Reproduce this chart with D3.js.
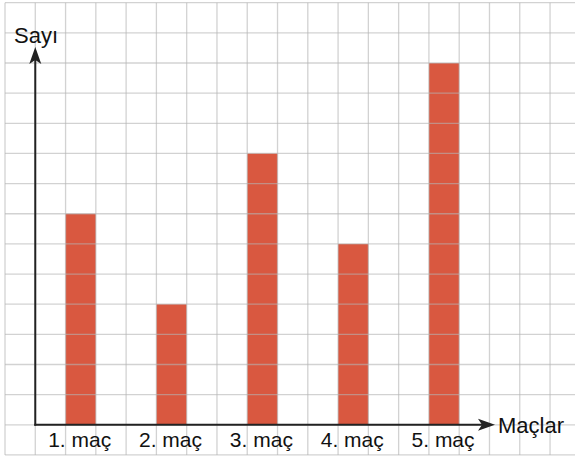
<!DOCTYPE html>
<html>
<head>
<meta charset="utf-8">
<script src="https://cdn.jsdelivr.net/npm/d3@7"></script>
<style>
html,body{margin:0;padding:0;background:#fff;}
svg{display:block;}
</style>
</head>
<body>
<svg id="chart" width="575" height="458"></svg>
<script>
const categories = ["1. maç", "2. maç", "3. maç", "4. maç", "5. maç"];
const values = [7, 4, 9, 6, 12];
const yTitle = "Sayı";
const xTitle = "Maçlar";

const svg = d3.select("#chart");
const cellW = 30.28, cellH = 30.15;
const gx0 = 5, gy0 = 2.7;
const nCols = 19, nRows = 15;

// grid-unit scales
const gxs = d3.scaleLinear().domain([0, nCols]).range([gx0, gx0 + nCols * cellW]);
const y = d3.scaleLinear().domain([0, 14]).range([gy0 + 14 * cellH, gy0]);
const x = d3.scaleBand().domain(categories)
  .range([gxs(1), gxs(16)]).paddingInner(2/3).paddingOuter(1/3);

// bars
svg.append("g").selectAll("rect").data(values).join("rect")
  .attr("x", (d, i) => x(categories[i]))
  .attr("width", x.bandwidth())
  .attr("y", d => y(d))
  .attr("height", d => y(0) - y(d))
  .attr("fill", "#d95840");

// grid
const grid = svg.append("g").attr("stroke", "#b4b4b4").attr("stroke-opacity", 0.6).attr("stroke-width", 1.3);
grid.selectAll("line.v").data(d3.range(0, nCols + 1)).join("line")
  .attr("x1", d => gxs(d)).attr("x2", d => gxs(d))
  .attr("y1", y(14)).attr("y2", y(-1));
grid.selectAll("line.h").data(d3.range(-1, 15)).join("line")
  .attr("y1", d => y(d)).attr("y2", d => y(d))
  .attr("x1", gxs(0)).attr("x2", 575);

// axes
const ax = svg.append("g").attr("stroke", "#222").attr("stroke-width", 2);
const ox = gxs(1), oy = y(0);
ax.append("line").attr("x1", ox).attr("x2", ox).attr("y1", oy + 1).attr("y2", 58);
ax.append("line").attr("x1", ox - 1).attr("x2", 485).attr("y1", oy).attr("y2", oy);
svg.append("path")
  .attr("d", `M${ox},47 L${ox + 6},64 L${ox},60 L${ox - 6},64 Z`)
  .attr("fill", "#222");
svg.append("path")
  .attr("d", `M495,${oy} L478,${oy - 6} L482,${oy} L478,${oy + 6} Z`)
  .attr("fill", "#222");

// tick labels
svg.append("g").selectAll("text").data(categories).join("text")
  .attr("x", d => x(d) + x.bandwidth() / 2 - 1)
  .attr("y", 447)
  .attr("text-anchor", "middle")
  .attr("font-family", "Liberation Sans, Arial, sans-serif")
  .attr("font-size", 21)
  .attr("fill", "#111")
  .text(d => d);

// titles
svg.append("text").attr("x", 14).attr("y", 43)
  .attr("font-family", "Liberation Sans, Arial, sans-serif")
  .attr("font-size", 22).attr("fill", "#111").text(yTitle);
svg.append("text").attr("x", 498).attr("y", 433)
  .attr("font-family", "Liberation Sans, Arial, sans-serif")
  .attr("font-size", 22).attr("fill", "#111").text(xTitle);
</script>
</body>
</html>
